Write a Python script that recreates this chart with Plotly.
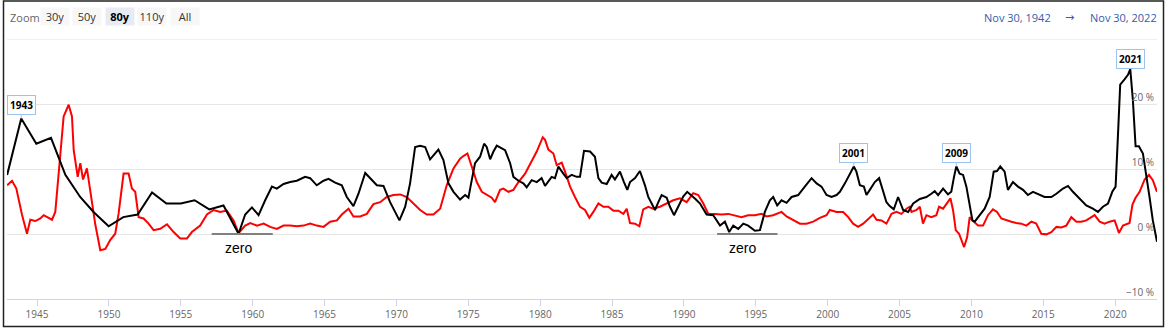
import plotly.graph_objects as go

# ---------------- data ----------------
# black series (decimal years, % yoy)
black_years = [
    1942.92, 1943.90, 1944.95, 1945.97, 1946.97, 1948.00, 1948.93, 1949.98, 1951.00, 1952.00,
    1953.00, 1954.00, 1955.00, 1955.96, 1956.98, 1957.97, 1959.02, 1959.48, 1959.95, 1960.41,
    1960.87, 1961.34, 1961.68, 1962.15, 1962.61, 1963.07, 1963.65, 1964.00, 1964.46, 1964.93,
    1965.28, 1965.74, 1966.20, 1966.55, 1967.01, 1967.36, 1967.83, 1968.29, 1968.64, 1969.10,
    1969.56, 1970.21, 1970.61, 1970.95, 1971.30, 1971.65, 1972.00, 1972.34, 1972.92, 1973.27,
    1973.62, 1973.97, 1974.43, 1974.78, 1975.01, 1975.24, 1975.47, 1975.82, 1976.10, 1976.28,
    1976.52, 1976.75, 1976.98, 1977.33, 1977.56, 1977.91, 1978.14, 1978.49, 1978.83, 1979.06,
    1979.41, 1979.76, 1980.10, 1980.34, 1980.80, 1981.03, 1981.27, 1981.61, 1981.85, 1982.19,
    1982.54, 1982.77, 1983.05, 1983.47, 1983.81, 1984.05, 1984.28, 1984.63, 1984.97, 1985.20,
    1985.55, 1985.83, 1986.06, 1986.25, 1986.60, 1986.94, 1987.29, 1987.52, 1987.76, 1987.99,
    1988.22, 1988.45, 1988.80, 1989.03, 1989.31, 1989.61, 1989.96, 1990.23, 1990.50, 1990.80,
    1991.12, 1991.58, 1992.04, 1992.51, 1992.85, 1993.15, 1993.43, 1993.78, 1994.13, 1994.47,
    1994.94, 1995.29, 1995.63, 1995.98, 1996.21, 1996.49, 1996.79, 1997.14, 1997.49, 1997.95,
    1998.41, 1998.88, 1999.23, 1999.57, 1999.92, 2000.27, 2000.62, 2000.85, 2001.20, 2001.54,
    2001.82, 2002.00, 2002.24, 2002.52, 2002.70, 2002.93, 2003.28, 2003.58, 2003.81, 2004.09,
    2004.32, 2004.60, 2004.90, 2005.25, 2005.60, 2005.95, 2006.41, 2006.87, 2007.21, 2007.45,
    2007.68, 2008.03, 2008.37, 2008.60, 2008.79, 2008.95, 2009.18, 2009.42, 2009.65, 2009.88,
    2010.07, 2010.23, 2010.57, 2010.92, 2011.27, 2011.55, 2011.78, 2012.01, 2012.31, 2012.54,
    2012.89, 2013.24, 2013.59, 2013.93, 2014.28, 2014.63, 2015.09, 2015.56, 2015.91, 2016.37,
    2016.72, 2017.06, 2017.53, 2017.99, 2018.45, 2018.80, 2019.15, 2019.50, 2019.80, 2020.03,
    2020.19, 2020.35, 2020.65, 2020.89, 2021.05, 2021.23, 2021.42, 2021.65, 2021.93, 2022.16,
    2022.39, 2022.62, 2022.91,
]
black_values = [
    9.1, 17.8, 13.9, 14.8, 9.1, 5.7, 3.4, 1.2, 2.6, 3.0,
    6.4, 4.7, 4.7, 5.2, 3.8, 4.4, 0.05, 3.0, 4.1, 2.9,
    5.2, 7.3, 7.0, 7.7, 8.0, 8.2, 8.8, 8.6, 7.5, 8.2,
    8.5, 7.9, 7.5, 5.7, 4.3, 6.2, 9.4, 8.3, 7.5, 7.4,
    4.9, 2.1, 4.2, 7.8, 13.4, 13.6, 13.4, 11.5, 13.0, 11.4,
    7.8, 6.5, 5.3, 6.0, 5.6, 8.3, 10.9, 11.9, 13.9, 13.4,
    11.5, 12.7, 13.6, 13.2, 12.9, 10.9, 8.8, 8.2, 7.8, 7.2,
    8.3, 8.0, 8.6, 7.4, 8.8, 8.6, 10.4, 9.3, 8.6, 9.1,
    8.8, 8.8, 12.8, 12.7, 11.9, 8.6, 7.9, 7.7, 9.1, 8.4,
    9.6, 8.0, 6.8, 8.0, 8.6, 9.7, 7.5, 5.7, 4.7, 3.7,
    4.9, 6.0, 5.6, 4.2, 2.9, 4.2, 5.8, 6.5, 6.0, 5.4,
    4.7, 3.0, 2.9, 1.3, 1.9, 0.3, 1.3, 0.8, 1.6, 1.3,
    0.5, 0.6, 3.4, 5.2, 5.7, 4.4, 5.2, 4.8, 5.7, 6.0,
    7.3, 8.6, 7.8, 7.3, 6.0, 5.7, 6.0, 6.5, 7.8, 9.1,
    10.4, 9.6, 7.5, 7.3, 6.0, 6.8, 8.0, 8.6, 6.8, 4.9,
    4.3, 3.8, 5.7, 3.7, 3.4, 4.7, 5.4, 5.7, 6.2, 6.6,
    6.0, 7.0, 6.1, 6.5, 8.8, 10.4, 9.3, 9.1, 7.3, 4.2,
    2.1, 1.9, 2.9, 3.9, 5.7, 9.6, 9.7, 10.4, 9.6, 6.8,
    8.0, 7.3, 6.8, 6.0, 6.5, 6.1, 5.7, 5.7, 6.2, 7.0,
    7.4, 6.5, 5.5, 4.4, 3.9, 3.4, 4.2, 4.7, 6.5, 7.3,
    15.0, 23.0, 23.8, 24.5, 25.4, 20.7, 13.5, 13.5, 12.4, 9.3,
    5.7, 2.1, -1.2,
]

# red series (decimal years, % yoy)
red_years = [
    1942.92, 1943.26, 1943.56, 1943.72, 1943.95, 1944.30, 1944.53, 1944.88, 1945.23, 1945.46,
    1946.04, 1946.27, 1946.50, 1946.85, 1947.20, 1947.43, 1947.55, 1947.83, 1948.01, 1948.20,
    1948.47, 1948.66, 1948.82, 1949.05, 1949.40, 1949.75, 1950.10, 1950.44, 1950.67, 1951.02,
    1951.37, 1951.60, 1951.83, 1952.07, 1952.41, 1952.76, 1953.11, 1953.57, 1954.04, 1954.50,
    1954.96, 1955.43, 1955.77, 1956.35, 1956.82, 1957.28, 1957.74, 1958.20, 1958.67, 1959.02,
    1959.48, 1959.83, 1960.30, 1960.76, 1961.22, 1961.68, 1962.15, 1962.61, 1963.07, 1963.54,
    1964.00, 1964.46, 1964.93, 1965.39, 1965.86, 1966.20, 1966.67, 1967.01, 1967.48, 1967.94,
    1968.40, 1968.87, 1969.33, 1969.79, 1970.26, 1970.72, 1971.18, 1971.65, 1972.11, 1972.57,
    1973.04, 1973.50, 1973.97, 1974.43, 1974.66, 1974.94, 1975.24, 1975.59, 1975.94, 1976.28,
    1976.63, 1976.86, 1977.21, 1977.44, 1977.79, 1978.14, 1978.49, 1978.95, 1979.41, 1979.76,
    1980.18, 1980.34, 1980.57, 1980.92, 1981.15, 1981.50, 1981.73, 1982.08, 1982.42, 1982.77,
    1983.12, 1983.42, 1983.70, 1984.05, 1984.40, 1984.74, 1985.09, 1985.44, 1985.79, 1986.02,
    1986.25, 1986.60, 1986.90, 1987.17, 1987.52, 1987.87, 1988.33, 1988.80, 1989.26, 1989.72,
    1990.19, 1990.65, 1991.00, 1991.35, 1991.70, 1992.16, 1992.62, 1993.09, 1993.55, 1994.01,
    1994.47, 1994.94, 1995.40, 1995.75, 1996.21, 1996.79, 1997.14, 1997.60, 1998.07, 1998.53,
    1998.99, 1999.46, 1999.92, 2000.15, 2000.62, 2001.08, 2001.43, 2001.77, 2002.12, 2002.47,
    2002.93, 2003.16, 2003.40, 2003.74, 2004.09, 2004.44, 2004.79, 2005.13, 2005.48, 2005.71,
    2005.83, 2006.18, 2006.41, 2006.63, 2006.87, 2007.21, 2007.56, 2007.75, 2008.03, 2008.30,
    2008.54, 2008.72, 2008.91, 2009.14, 2009.30, 2009.49, 2009.70, 2009.88, 2010.07, 2010.46,
    2010.81, 2011.15, 2011.50, 2011.78, 2012.08, 2012.43, 2012.78, 2013.12, 2013.47, 2013.82,
    2014.17, 2014.51, 2014.86, 2015.21, 2015.56, 2015.91, 2016.25, 2016.60, 2016.95, 2017.30,
    2017.64, 2017.99, 2018.34, 2018.57, 2018.92, 2019.26, 2019.61, 2019.96, 2020.12, 2020.26,
    2020.54, 2020.89, 2021.00, 2021.20, 2021.40, 2021.70, 2022.05, 2022.35, 2022.62, 2022.91,
]
red_values = [
    7.5, 8.2, 7.0, 5.2, 3.0, 0.05, 2.2, 2.0, 2.4, 2.9,
    2.2, 3.4, 9.8, 18.1, 19.9, 18.1, 12.9, 8.8, 10.9, 8.4,
    10.1, 6.8, 4.9, 1.5, -2.5, -2.3, -0.9, 0.05, 3.1, 9.3,
    9.3, 7.0, 6.5, 2.6, 2.4, 1.6, 0.6, 0.8, 1.5, 0.3,
    -0.7, -0.7, 0.3, 1.3, 3.0, 3.7, 3.4, 3.6, 2.1, 0.15,
    1.3, 1.7, 1.3, 1.6, 1.1, 0.8, 1.3, 1.3, 1.2, 1.3,
    1.6, 1.3, 1.1, 1.9, 2.1, 3.0, 3.9, 2.7, 2.7, 3.1,
    4.6, 4.9, 5.7, 6.0, 6.1, 5.7, 4.7, 3.7, 3.0, 3.0,
    3.9, 7.5, 10.1, 11.6, 12.0, 12.4, 10.4, 8.0, 6.5, 6.0,
    5.6, 4.9, 6.8, 7.0, 6.5, 6.8, 8.0, 9.3, 11.1, 12.7,
    14.9, 14.5, 13.0, 12.4, 10.6, 11.0, 9.6, 7.3, 5.7, 4.2,
    3.7, 2.5, 3.4, 4.7, 4.2, 4.2, 3.6, 3.6, 3.1, 3.9,
    1.7, 1.6, 1.2, 3.8, 4.2, 3.9, 4.2, 4.7, 5.2, 5.5,
    4.9, 6.3, 6.0, 4.7, 3.1, 3.1, 3.0, 3.1, 2.9, 2.6,
    2.9, 2.9, 3.1, 2.7, 2.9, 3.4, 2.7, 2.1, 1.6, 1.6,
    1.9, 2.5, 2.9, 3.7, 3.4, 3.4, 2.6, 1.6, 1.1, 1.6,
    2.6, 3.0, 2.2, 2.1, 1.6, 3.1, 3.4, 3.1, 3.9, 4.2,
    3.4, 3.7, 4.2, 1.6, 2.9, 2.6, 2.9, 4.2, 3.9, 4.7,
    5.5, 3.7, 0.6, 0.05, -1.0, -2.0, -0.5, 2.6, 2.1, 1.3,
    1.3, 2.9, 3.8, 3.4, 2.4, 2.1, 1.9, 1.7, 1.6, 1.3,
    1.9, 1.6, 0.05, -0.05, 0.3, 1.1, 1.0, 1.3, 2.6, 1.9,
    1.9, 2.1, 2.6, 2.9, 1.9, 1.6, 1.9, 2.1, 1.1, 0.15,
    1.3, 1.6, 1.7, 4.5, 5.5, 6.5, 8.4, 9.1, 8.3, 6.5,
]

x_start, x_end = 1942.91, 2022.91
x_ticks = [1945, 1950, 1955, 1960, 1965, 1970, 1975, 1980, 1985, 1990, 1995, 2000, 2005, 2010, 2015, 2020]
y_ticks = [-10, 0, 10, 20, 30]
y_tick_text = ["\u221210 %", "0 %", "10 %", "20 %", ""]

peak_labels = ["1943", "2001", "2009", "2021"]
zero_spans = [(1957.15, 1961.4), (1992.31, 1996.51)]
zero_text_x = [1959.0, 1994.1]
zoom_buttons = ["30y", "50y", "80y", "110y", "All"]
selected_button = "80y"
date_from = "Nov 30, 1942"
date_to = "Nov 30, 2022"

# ---------------- figure ----------------
FONT = "Open Sans, Arial, sans-serif"
L, R, T, B = 7, 11, 39, 29
W_FIG, H_FIG = 1168, 328
PW, PH = W_FIG - L - R, H_FIG - T - B


def px(xp):
    return (xp - L) / PW


def py(yp):
    return (T + PH - yp) / PH


fig = go.Figure()
fig.add_trace(go.Scatter(x=red_years, y=red_values, mode="lines",
                         line=dict(color="#ff0000", width=2), hoverinfo="skip"))
fig.add_trace(go.Scatter(x=black_years, y=black_values, mode="lines",
                         line=dict(color="#000000", width=2), hoverinfo="skip"))

annotations = []
shapes = []

# peak labels
for lab in peak_labels:
    yr = int(lab)
    best = None
    for xv, yv in zip(black_years, black_values):
        if yr - 0.5 <= xv <= yr + 1.2:
            if best is None or yv > best[1]:
                best = (xv, yv)
    annotations.append(dict(
        x=best[0], y=best[1], xref="x", yref="y", text="<b>%s</b>" % lab,
        showarrow=True, arrowhead=0, arrowwidth=1, arrowcolor="#9cc3f0",
        ax=0, ay=-10 if lab == "2021" else -13,
        bgcolor="rgba(255,255,255,0.85)", bordercolor="#9cc3f0", borderwidth=1, borderpad=2,
        font=dict(family=FONT, size=10, color="#000000"),
    ))

# "zero" markers
for (a, b), tx in zip(zero_spans, zero_text_x):
    shapes.append(dict(type="line", xref="x", yref="y", x0=a, x1=b, y0=0, y1=0,
                       line=dict(color="#808080", width=2)))
    annotations.append(dict(x=tx, y=0, xref="x", yref="y", text="zero", showarrow=False,
                            yanchor="top", yshift=-4,
                            font=dict(family="Liberation Sans, Arial, sans-serif", size=14, color="#000000")))

# top grid line (30 %)
shapes.append(dict(type="line", xref="paper", yref="y", x0=0, x1=1, y0=30, y1=30,
                   line=dict(color="#e6e6e6", width=1), layer="below"))

# frame
shapes.append(dict(type="rect", xref="paper", yref="paper",
                   x0=px(3.5), x1=px(1163.5), y0=py(326.5), y1=py(1.0),
                   line=dict(color="#222222", width=1.5)))

# header: zoom buttons
annotations.append(dict(x=px(8), y=py(17), xref="paper", yref="paper", text="Zoom",
                        showarrow=False, xanchor="left", yanchor="middle",
                        font=dict(family=FONT, size=11, color="#666666")))
btn_centers = [54.5, 87.0, 119.5, 152.0, 184.5]
for lab, cx in zip(zoom_buttons, btn_centers):
    sel = lab == selected_button
    annotations.append(dict(
        x=px(cx), y=py(16.7), xref="paper", yref="paper",
        text="<b>%s</b>" % lab if sel else lab, showarrow=False,
        xanchor="center", yanchor="middle", width=26, height=15, borderpad=1,
        bgcolor="#e6ebf5" if sel else "#f7f7f7",
        font=dict(family=FONT, size=11, color="#000000" if sel else "#333333"),
    ))

# header: date range
annotations.append(dict(x=px(1053), y=py(17), xref="paper", yref="paper", text=date_from,
                        showarrow=False, xanchor="right", yanchor="middle",
                        font=dict(family=FONT, size=11, color="#335cad")))
annotations.append(dict(x=px(1069), y=py(17), xref="paper", yref="paper", text="\u2192",
                        showarrow=False, xanchor="center", yanchor="middle",
                        font=dict(family="DejaVu Sans, sans-serif", size=11, color="#335cad")))
annotations.append(dict(x=px(1088), y=py(17), xref="paper", yref="paper", text=date_to,
                        showarrow=False, xanchor="left", yanchor="middle",
                        font=dict(family=FONT, size=11, color="#335cad")))

fig.update_layout(
    width=W_FIG, height=H_FIG,
    margin=dict(l=L, r=R, t=T, b=B, pad=0),
    paper_bgcolor="#ffffff", plot_bgcolor="#ffffff",
    showlegend=False,
    annotations=annotations, shapes=shapes,
    xaxis=dict(range=[x_start, x_end], tickvals=x_ticks, ticktext=[str(t) for t in x_ticks],
               showgrid=False, zeroline=False, showline=True, linecolor="#ccd6eb", linewidth=1,
               ticks="outside", ticklen=6, tickcolor="#ccd6eb", tickwidth=1,
               tickfont=dict(family=FONT, size=10, color="#666666")),
    yaxis=dict(range=[-10, 30.02], tickvals=y_ticks, ticktext=y_tick_text,
               side="right", ticklabelposition="inside top", ticks="",
               showgrid=True, gridcolor="#e6e6e6", gridwidth=1, zeroline=False, showline=False,
               tickfont=dict(family=FONT, size=10, color="#666666")),
)

fig.write_html("out.html")
